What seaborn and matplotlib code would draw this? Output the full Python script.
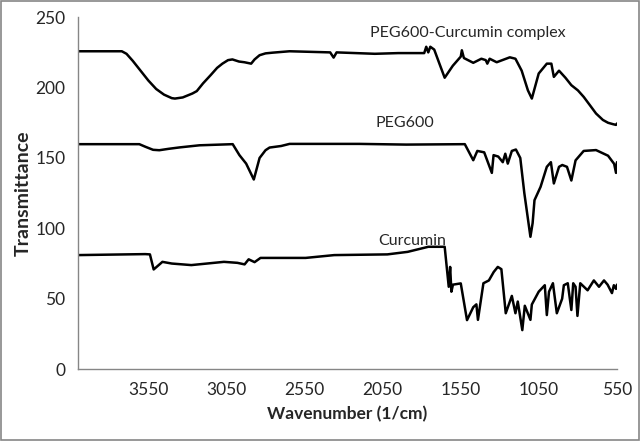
import matplotlib
matplotlib.use("Agg")
import matplotlib.pyplot as plt
import matplotlib.patches as patches
import seaborn as sns
import pandas as pd

# FTIR spectra (wavenumber in 1/cm, transmittance)
complex_wn = [4000, 3720, 3690, 3650, 3600, 3550, 3500, 3450, 3400, 3380, 3330, 3268,
              3240, 3200, 3150, 3110, 3076, 3040, 3012, 2970,
              2935, 2892, 2870, 2838, 2800, 2755, 2646, 2386, 2364, 2345, 2100, 1950, 1784,
              1771, 1758, 1745, 1720, 1690, 1653, 1601, 1550, 1543, 1530, 1470, 1418,
              1390, 1380, 1365, 1320, 1236, 1200, 1160, 1120, 1095, 1051, 999, 970, 954,
              921, 880, 842, 800, 763, 720, 684, 640, 607, 575, 556, 550]
complex_t = [225.8, 225.8, 224, 219, 212, 205, 199, 195, 192.5, 192.2, 193, 195.8,
             197.5, 203, 209, 214, 217, 219.5, 220, 218.5,
             218, 217, 220, 223, 224.3, 224.8, 225.8, 225, 221.3, 225, 224, 224.5, 224.5,
             229, 225, 229, 227, 218, 207, 215.5, 222, 226.5, 221, 217.6, 220.5,
             219.5, 217, 220.5, 218, 221.5, 220.5, 212, 198, 192.2, 210, 217, 217, 207.6,
             212, 207, 201.7, 198, 193.4, 187, 181.6, 177, 175, 174, 173.5, 174.5]

peg_wn = [4000, 3608, 3570, 3520, 3480, 3420, 3350, 3223, 3010, 2967, 2924, 2875, 2838,
          2800, 2774, 2700, 2646, 2200, 1900, 1524, 1470, 1444, 1400, 1351, 1340, 1310,
          1281, 1265, 1249, 1223, 1197, 1169, 1143, 1104, 1090, 1078, 1039, 999, 973,
          954, 921, 900, 870, 842, 815, 763, 684, 607, 568, 556, 550]
peg_t = [159.8, 159.8, 158, 155.8, 155.5, 156.5, 157.5, 159, 159.8, 152, 146, 134.7, 150,
         155.5, 157.4, 158.5, 160, 160, 159.5, 159.8, 148.4, 155, 154, 139.4, 152, 151,
         147, 153, 146, 155, 156, 150, 125, 94, 103.7, 120, 129.5, 143.7, 147,
         131.9, 143.7, 145, 143.7, 134, 148.3, 155, 155.6, 151.6, 145.8, 139.4, 147]

curc_wn = [4000, 3570, 3540, 3516, 3460, 3400, 3275, 3066, 2980, 2934, 2908, 2870, 2832,
           2543, 2360, 2020, 1890, 1758, 1653, 1627, 1618, 1610, 1600, 1550, 1510,
           1470, 1450, 1440, 1405, 1370, 1339, 1313, 1290, 1262, 1223, 1200, 1185,
           1156, 1140, 1104, 1095, 1051, 1012, 999, 985, 960, 935, 901, 890, 865,
           842, 830, 815, 803, 785, 738, 698, 665, 633, 610, 582, 570, 556, 550]
curc_t = [81, 81.7, 81.5, 70.8, 76.2, 75, 73.9, 76.2, 75.5, 74.4, 78, 76, 79,
          79, 81, 81.5, 83.3, 86.9, 86.9, 58.5, 72.6, 55, 60, 60.9, 34.8,
          44, 46, 35, 61, 63, 69, 72.6, 71, 39.7, 52, 39.7, 48,
          27.7, 45, 35, 45.9, 55, 59.6, 38.4, 55, 61, 39.7, 50, 59.6, 61,
          42, 61, 58.5, 37.8, 61, 56, 63, 58.5, 63, 60, 54, 59.6, 57, 60]

xticks = [3550, 3050, 2550, 2050, 1550, 1050, 550]
yticks = [0, 50, 100, 150, 200, 250]

sns.set_style("white")
plt.rcParams["font.family"] = ["Lato", "DejaVu Sans"]

fig = plt.figure(figsize=(6.4, 4.41), dpi=100)
ax = fig.add_axes([0.122, 0.163, 0.842, 0.798])

for wn, t in [(complex_wn, complex_t), (peg_wn, peg_t), (curc_wn, curc_t)]:
    df = pd.DataFrame({"wn": wn, "t": t})
    sns.lineplot(data=df, x="wn", y="t", sort=False, color="black", linewidth=1.8, ax=ax)

ax.set_xlim(4000, 550)
ax.set_ylim(0, 250)
ax.set_xticks(xticks)
ax.set_yticks(yticks)
ax.tick_params(axis="both", direction="out", length=5, width=1, color="#868686",
               labelsize=12.5, pad=4)
for side in ["top", "right"]:
    ax.spines[side].set_visible(False)
for side in ["left", "bottom"]:
    ax.spines[side].set_color("#868686")
    ax.spines[side].set_linewidth(1)

ax.set_xlabel("Wavenumber (1/cm)", fontsize=12.5, fontweight="bold", labelpad=6)
ax.set_ylabel("Transmittance", fontsize=14, fontweight="bold", labelpad=3)

ax.text(1505, 238.5, "PEG600-Curcumin complex", ha="center", va="center", fontsize=11.5)
ax.text(1909, 174.5, "PEG600", ha="center", va="center", fontsize=11.5)
ax.text(1864, 91, "Curcumin", ha="center", va="center", fontsize=11.5)

fig.patches.append(patches.Rectangle((0.002, 0.003), 0.996, 0.994, transform=fig.transFigure,
                                     fill=False, edgecolor="#868686", linewidth=1.2))

fig.savefig("out.png", dpi=100)
